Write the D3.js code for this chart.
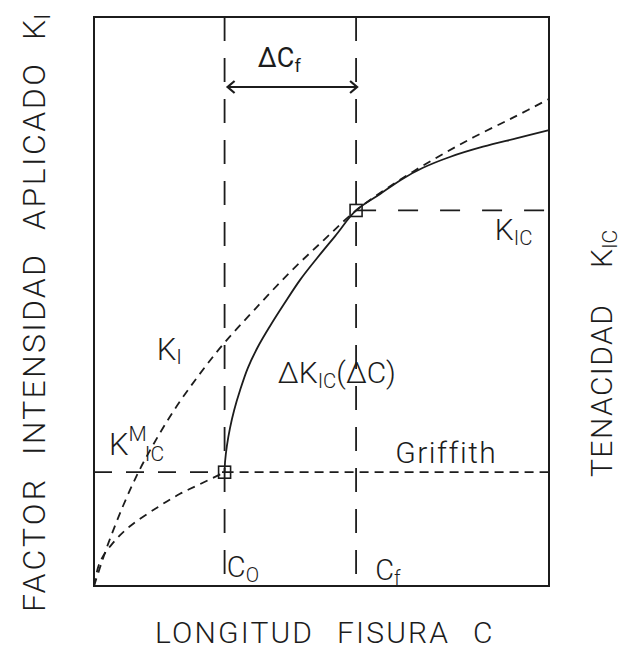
<!DOCTYPE html>
<html>
<head>
<meta charset="utf-8">
<script src="https://cdn.jsdelivr.net/npm/d3@7"></script>
<style>
  body { margin: 0; background: #fff; }
  text { font-family: Roboto, "Liberation Sans", sans-serif; font-weight: 300; fill: #1c1c1c; }
</style>
</head>
<body>
<svg id="chart" width="624" height="657"></svg>
<script>
/////////////////////////////////////////////////////////////////////////////////////
// Data (crack length C and stress intensity K, arbitrary units 0-10)
var cO = 2.87, cF = 5.76;          // initial and final crack length
var kGriffith = 2.0, kIC = 6.6;    // Griffith level, plateau toughness

// K_I at the higher applied stress (meets the R-curve at Cf)
var kiHighC = [0, 0.13, 0.31, 0.64, 0.97, 1.32, 1.76, 2.29, 2.84, 3.52, 4.29, 5.05, 5.76, 6.59, 7.47, 8.35, 9.23, 10.0];
var kiHighK = [0, 0.32, 0.74, 1.41, 1.99, 2.51, 3.09, 3.69, 4.25, 4.85, 5.50, 6.08, 6.60, 7.07, 7.50, 7.89, 8.24, 8.56];

// K_I at the Griffith stress (reaches K^M_IC at Co)
var kiLowC = [0, 0.13, 0.40, 0.79, 1.41, 1.89, 2.33, 2.87];
var kiLowK = [0, 0.42, 0.74, 1.05, 1.39, 1.62, 1.79, 2.00];

// R-curve: toughness rising with crack growth
var rCurveC = [2.87, 2.88, 2.92, 2.99, 3.08, 3.21, 3.38, 3.60, 3.87, 4.18, 4.53, 4.90, 5.30, 5.76, 6.29, 6.77, 7.23, 7.82, 8.55, 9.30, 10.0];
var rCurveK = [2.00, 2.18, 2.46, 2.78, 3.09, 3.44, 3.83, 4.20, 4.57, 4.96, 5.38, 5.76, 6.15, 6.60, 6.89, 7.15, 7.35, 7.54, 7.72, 7.87, 8.01];

function zipPts(cs, ks) {
  return cs.map(function(c, i) { return {c: c, k: ks[i]}; });
}

/////////////////////////////////////////////////////////////////////////////////////
// Margins / scales
var svg = d3.select("#chart");
var margin = {left: 94, right: 75, top: 17, bottom: 71};
var w = 624, h = 657;

var xScale = d3.scaleLinear().domain([0, 10]).range([margin.left, w - margin.right]);
var yScale = d3.scaleLinear().domain([0, 10]).range([h - margin.bottom, margin.top]);

var ink = "#1c1c1c";

var line = d3.line()
  .x(function(d) { return xScale(d.c); })
  .y(function(d) { return yScale(d.k); })
  .curve(d3.curveCatmullRom.alpha(0.5));

/////////////////////////////////////////////////////////////////////////////////////
// Guide lines
function guide(x1, y1, x2, y2, dash) {
  svg.append("line")
     .attr("x1", xScale(x1)).attr("y1", yScale(y1))
     .attr("x2", xScale(x2)).attr("y2", yScale(y2))
     .attr("stroke", ink)
     .attr("stroke-width", 1.8)
     .attr("stroke-dasharray", dash);
}
guide(cO, 10, cO, 0, "24,17");
guide(cF, 10, cF, 0, "24,17");
guide(0, kGriffith, cO, kGriffith, "18,14");
guide(cO, kGriffith, 10, kGriffith, "9,6");
guide(cF, kIC, 10, kIC, "20,22");

// curves
function curve(cs, ks, dash) {
  svg.append("path")
     .datum(zipPts(cs, ks))
     .attr("d", line)
     .attr("fill", "none").attr("stroke", ink).attr("stroke-width", 1.8)
     .attr("stroke-dasharray", dash);
}
curve(kiHighC, kiHighK, "8,6");
curve(kiLowC, kiLowK, "8,6");
curve(rCurveC, rCurveK, null);

// frame
svg.append("rect")
   .attr("x", xScale(0)).attr("y", yScale(10))
   .attr("width", xScale(10) - xScale(0))
   .attr("height", yScale(0) - yScale(10))
   .attr("fill", "none").attr("stroke", ink).attr("stroke-width", 2);

// square markers
svg.selectAll(".mark")
   .data([{c: cO, k: kGriffith}, {c: cF, k: kIC}])
   .enter()
   .append("rect")
   .attr("class", "mark")
   .attr("x", function(d) { return xScale(d.c) - 6; })
   .attr("y", function(d) { return yScale(d.k) - 6; })
   .attr("width", 12).attr("height", 12)
   .attr("fill", "none").attr("stroke", ink).attr("stroke-width", 1.6);

// delta Cf arrow
var arrowK = 8.77;
var ay = yScale(arrowK), ax1 = xScale(cO) + 3, ax2 = xScale(cF) + 1;
svg.append("path")
   .attr("d", "M" + ax1 + "," + ay + "H" + ax2 +
              "M" + (ax1 + 7) + "," + (ay - 6) + "L" + ax1 + "," + ay + "L" + (ax1 + 7) + "," + (ay + 6) +
              "M" + (ax2 - 7) + "," + (ay - 6) + "L" + ax2 + "," + ay + "L" + (ax2 - 7) + "," + (ay + 6))
   .attr("fill", "none").attr("stroke", ink).attr("stroke-width", 2.2);

/////////////////////////////////////////////////////////////////////////////////////
// Labels
function label(c, k, parts, size) {
  var t = svg.append("text")
     .attr("x", xScale(c)).attr("y", yScale(k))
     .style("font-size", size + "px");
  parts.forEach(function(p) {
    var ts = t.append("tspan").text(p.t);
    if (p.sub) ts.style("font-size", (size * 0.68) + "px").attr("dy", p.dy || 6);
    if (p.sup) ts.style("font-size", (size * 0.68) + "px").attr("dy", p.dy || -12);
    if (p.dx) ts.attr("dx", p.dx);
    if (p.reset) ts.attr("dy", p.reset);
  });
  return t;
}

label(3.60, 9.12, [{t: "\u0394C"}, {t: "f", sub: true, dy: 5}], 27).style("font-weight", 400);
label(1.38, 3.97, [{t: "K"}, {t: "I", sub: true, dy: 4}], 31);
label(4.04, 3.57, [{t: "\u0394K"}, {t: "IC", sub: true, dy: 5}, {t: "(\u0394C)", reset: -5}], 30);
label(0.33, 2.30, [{t: "K"}, {t: "M", sup: true, dy: -14}, {t: "IC", sub: true, dy: 20, dx: -2}], 31);
label(6.62, 2.16, [{t: "Griffith"}], 30).style("letter-spacing", "1.5px");
label(2.92, 0.16, [{t: "C"}, {t: "O", sub: true, dy: 5}], 29);
label(6.18, 0.11, [{t: "C"}, {t: "f", sub: true, dy: 5}], 29);
label(8.81, 6.08, [{t: "K"}, {t: "IC", sub: true, dy: 5}], 30);

// axis titles: words placed along the edge, spread to the scanned widths
function title(g, words, size) {
  words.forEach(function(wd) {
    var t = g.append("text")
       .attr("x", wd.at).attr("y", 0)
       .style("font-size", size + "px");
    if (wd.len) t.attr("textLength", wd.len).attr("lengthAdjust", "spacing");
    t.append("tspan").text(wd.t);
    if (wd.sub) t.append("tspan").text(wd.sub).attr("dy", 5).style("font-size", (size * 0.7) + "px");
  });
}

title(svg.append("g").attr("transform", "translate(0,643)"),
      [{t: "LONGITUD", at: 155, len: 157}, {t: "FISURA", at: 337, len: 111}, {t: "C", at: 473}], 30);

title(svg.append("g").attr("transform", "translate(45,612) rotate(-90)"),
      [{t: "FACTOR", at: 0, len: 132}, {t: "INTENSIDAD", at: 157, len: 200},
       {t: "APLICADO", at: 382, len: 166}, {t: "K", at: 572, sub: "I"}], 32);

title(svg.append("g").attr("transform", "translate(612,477) rotate(-90)"),
      [{t: "TENACIDAD", at: 0, len: 172}, {t: "K", at: 209, sub: "IC"}], 30);
</script>
</body>
</html>
